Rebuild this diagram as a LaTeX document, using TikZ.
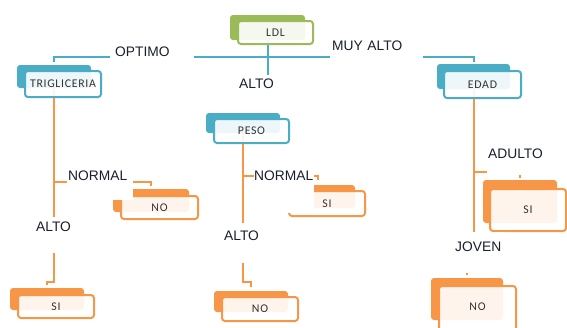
\documentclass[tikz,border=0pt]{standalone}
\usepackage{fontspec}
\usetikzlibrary{backgrounds}
\newfontfamily\edgefont{Liberation Sans}
\newfontfamily\cardfont{Carlito}[LetterSpace=6]
\definecolor{root}{HTML}{9BBB59}
\definecolor{split}{HTML}{4BACC6}
\definecolor{leaf}{HTML}{F79646}
\definecolor{ink}{HTML}{1B1F2E}
\definecolor{cardink}{HTML}{333333}
\tikzset{
  % ---- cards -----------------------------------------------------
  cardback/.style  = {rounded corners=3pt, inner sep=0pt,
                      minimum width=74pt, minimum height=22pt},
  cardface/.style  = {rounded corners=3pt, fill=white, fill opacity=.9,
                      text opacity=1, line width=2pt, inner sep=0pt,
                      minimum width=76pt, minimum height=24pt,
                      font=\cardfont\fontsize{11.8pt}{13pt}\selectfont,
                      text=cardink},
  rootback/.style  = {cardback, fill=root},
  rootface/.style  = {cardface, draw=root},
  splitback/.style = {cardback, fill=split},
  splitface/.style = {cardface, draw=split},
  leafback/.style  = {cardback, fill=leaf},
  leafface/.style  = {cardface, draw=leaf},
  % ---- branches --------------------------------------------------
  rootedge/.style  = {draw=split, line width=2pt},
  splitedge/.style = {draw=leaf, line width=2pt},
  lab/.style       = {font=\edgefont\fontsize{13.8pt}{16pt}\selectfont,
                      text=ink, fill=white, inner sep=0pt,
                      anchor=base west, align=left},
}
\begin{document}
\begin{tikzpicture}[x=1pt,y=-1pt]
\useasboundingbox (0,0) rectangle (567,327);
  % back of the cards
  \begin{scope}[on background layer]
    \node[rootback, minimum width=75pt, minimum height=25pt] (ldl) at (267.5,27.5) {};
    \node[splitback, minimum height=23pt] (trig) at (54,76.5) {};
    \node[splitback, minimum width=73pt, minimum height=25pt] (edad) at (473.5,76.5) {};
    \node[splitback, minimum height=20pt] (peso) at (243,123) {};
    \node[leafback, minimum width=76pt, minimum height=23pt] (trigno) at (151,200.5) {};
    \node[leafback] (trigsi) at (47,299) {};
    \node[leafback, minimum height=23pt] (pesosi) at (318,196.5) {};
    \node[leafback, minimum height=21pt] (pesono) at (251,301.5) {};
    \node[leafback, minimum height=43pt] (edadsi) at (520,201.5) {};
    \node[leafback, minimum width=72pt, minimum height=42pt] (edadno) at (467,299) {};
  \end{scope}
  % front of the cards
  \node[rootface, minimum width=75pt, minimum height=23pt] (ldlf) at (275.5,32.5) {LDL};
  \node[splitface, minimum height=26pt] (trigf) at (63,84) {TRIGLICERIA};
  \node[splitface, minimum width=77pt, minimum height=27pt] (edadf) at (482.5,84.5) {EDAD};
  \node[splitface, minimum width=75pt] (pesof) at (251.5,131) {PESO};
  \node[leafface, minimum width=77pt, minimum height=23pt] (trignof) at (159.5,207.5) {NO};
  \node[leafface, minimum height=23pt] (trigsif) at (56,306.5) {SI};
  \node[leafface, minimum height=25pt] (pesosif) at (327,203.5) {SI};
  \node[leafface] (pesonof) at (260,309) {NO};
  \node[leafface, minimum width=76pt, minimum height=42pt] (edadsif) at (528,210) {SI};
  \node[leafface, minimum width=77pt, minimum height=52pt, text depth=10pt] (edadnof) at (477.5,312) {NO};
  % branch labels
  \node[lab, text width=84pt, text height=14pt, text depth=4pt] (optimo) at (110,56) {\hspace*{5pt}OPTIMO};
  \node[lab, text width=93pt, text height=13pt, text depth=10pt] (muyalto) at (330,50) {\hspace*{2pt}MUY ALTO};
  \node[lab, text width=42pt, text height=13pt, text depth=4pt] (ldlalto) at (236,88) {\hspace*{3pt}ALTO};
  \node[lab, text width=66pt, text height=15pt, text depth=20pt] (trignormal) at (67,180) {\hspace*{1pt}NORMAL};
  \node[lab, text width=42pt, text height=14pt, text depth=22pt] (trigalto) at (34,231) {\hspace*{2pt}ALTO};
  \node[lab, text width=60pt, text height=14pt, text depth=33pt] (pesonormal) at (254,180) {NORMAL};
  \node[lab, text width=40pt, text height=17pt, text depth=23pt] (pesoalto) at (222,240) {\hspace*{2pt}ALTO};
  \node[lab, text width=73pt, text height=13pt, text depth=17pt] (adulto) at (487,158) {\hspace*{1pt}ADULTO};
  \node[lab, text width=55pt, text height=19pt, text depth=22pt] (joven) at (450,251) {\hspace*{5pt}JOVEN};
  % branches
  \begin{scope}[on background layer]
    \draw[rootedge, shorten >=3pt] (ldl.south) |- ([yshift=8pt]trig.north) -- (trig.north);
    \draw[rootedge, shorten >=2pt] (ldl.south) |- ([yshift=7pt]edad.north) -- (edad.north);
    \draw[rootedge] (ldl.south) -- (ldl.south |- ldlalto.north);
    \draw[splitedge, shorten >=3pt] (trig.south) |- ([yshift=7pt]trigno.north) -- (trigno.north);
    \draw[splitedge, shorten >=3pt] (trig.south) |- ([yshift=6pt]trigsi.north) -- (trigsi.north);
    \draw[splitedge, shorten >=5pt] (peso.south) |- ([yshift=9pt]pesosi.north) -- (pesosi.north);
    \draw[splitedge, shorten >=4pt] (peso.south) |- ([yshift=9pt]pesono.north) -- (pesono.north);
    \draw[splitedge, shorten >=2pt] (edad.south) |- ([yshift=8pt]edadsi.north) -- (edadsi.north);
    \draw[splitedge, shorten >=3pt] (edad.south) |- ([yshift=8pt]edadno.north) -- (edadno.north);
  \end{scope}
\end{tikzpicture}
\end{document}
